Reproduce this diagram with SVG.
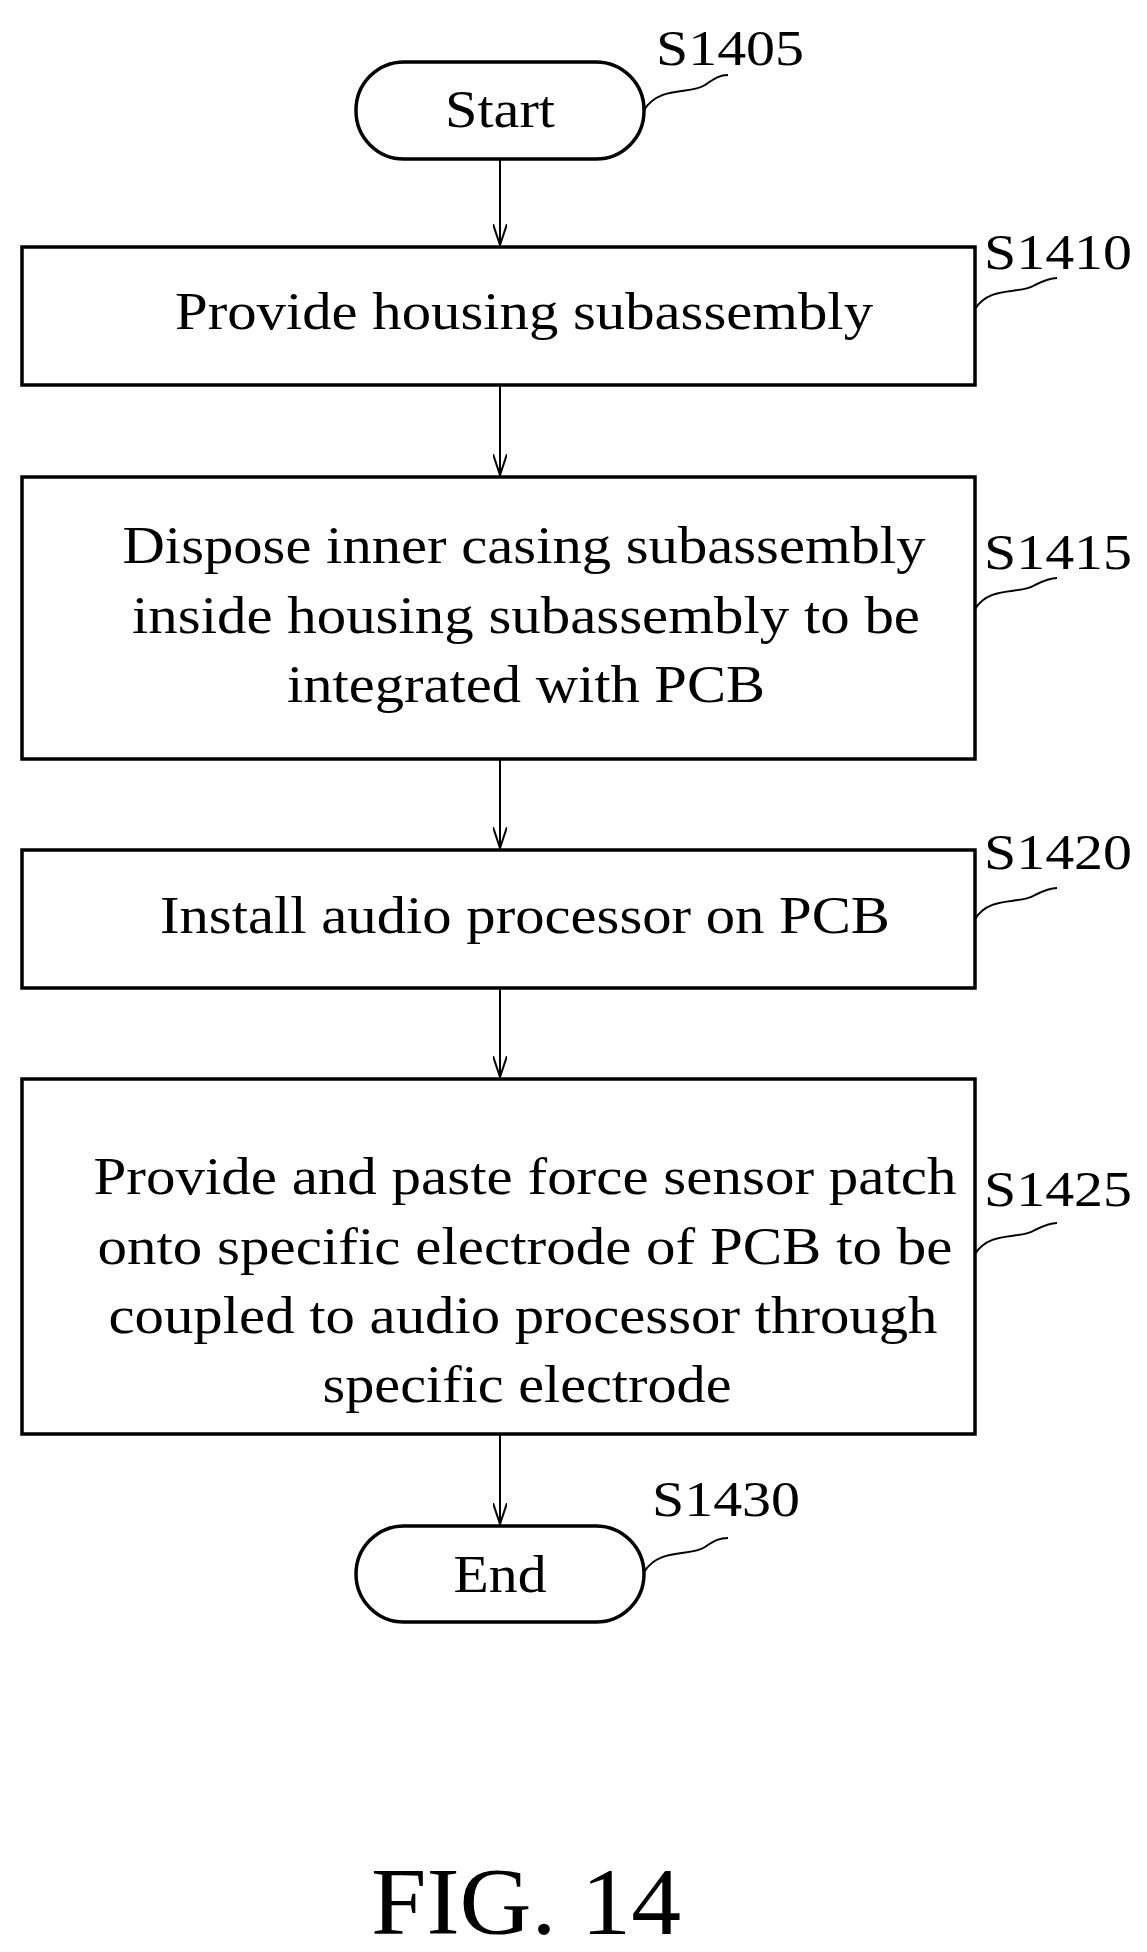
<svg xmlns="http://www.w3.org/2000/svg" width="1147" height="1952" viewBox="0 0 1147 1952">
<defs><marker id="ah" markerWidth="22" markerHeight="14" refX="21" refY="7" orient="auto" markerUnits="userSpaceOnUse" viewBox="0 0 22 14"><path d="M0,0 L21,7 L0,14" fill="none" stroke="#000" stroke-width="2"/></marker></defs>
<style>
.box,.pill{fill:#fff;stroke:#000;stroke-width:3.5}
text{font-family:"Liberation Serif","Times New Roman",serif;fill:#000}
.t{font-size:52px;text-anchor:middle}
.l{font-size:50px}
.c{fill:none;stroke:#000;stroke-width:2}
</style>
<rect width="1147" height="1952" fill="#fff"/>
<g id="connectors">
<line class="c" x1="500" y1="159" x2="500" y2="245" marker-end="url(#ah)"/>
<line class="c" x1="500" y1="385" x2="500" y2="475" marker-end="url(#ah)"/>
<line class="c" x1="500" y1="759" x2="500" y2="848" marker-end="url(#ah)"/>
<line class="c" x1="500" y1="988" x2="500" y2="1077" marker-end="url(#ah)"/>
<line class="c" x1="500" y1="1434" x2="500" y2="1524" marker-end="url(#ah)"/>
<path class="c" d="M644,110 C660,85 690,95 705,85 C715,78 720,75 728,75"/>
<path class="c" d="M975,309 C990,285 1020,295 1035,285 C1045,280 1050,278 1057,278"/>
<path class="c" d="M975,609 C990,585 1020,595 1035,585 C1045,580 1050,578 1057,578"/>
<path class="c" d="M975,919 C990,895 1020,905 1035,895 C1045,890 1050,888 1057,888"/>
<path class="c" d="M975,1254 C990,1230 1020,1240 1035,1230 C1045,1225 1050,1223 1057,1223"/>
<path class="c" d="M644,1572 C660,1547 690,1557 705,1547 C715,1540 720,1538 728,1538"/>
</g>
<g id="S1405"><rect class="pill" x="356" y="62" width="288" height="97" rx="48"/><text class="t" x="500" y="127" textLength="110" lengthAdjust="spacingAndGlyphs">Start</text><text class="l" x="656" y="65" textLength="148" lengthAdjust="spacingAndGlyphs">S1405</text></g>
<g id="S1410"><rect class="box" x="22" y="247" width="953" height="138"/><text class="t" x="524" y="329" textLength="698" lengthAdjust="spacingAndGlyphs">Provide housing subassembly</text><text class="l" x="984" y="269" textLength="148" lengthAdjust="spacingAndGlyphs">S1410</text></g>
<g id="S1415"><rect class="box" x="22" y="477" width="953" height="282"/><text class="t" x="524" y="563" textLength="803" lengthAdjust="spacingAndGlyphs">Dispose inner casing subassembly</text><text class="t" x="526" y="633" textLength="788" lengthAdjust="spacingAndGlyphs">inside housing subassembly to be</text><text class="t" x="526" y="702" textLength="478" lengthAdjust="spacingAndGlyphs">integrated with PCB</text><text class="l" x="984" y="569" textLength="148" lengthAdjust="spacingAndGlyphs">S1415</text></g>
<g id="S1420"><rect class="box" x="22" y="850" width="953" height="138"/><text class="t" x="525" y="933" textLength="730" lengthAdjust="spacingAndGlyphs">Install audio processor on PCB</text><text class="l" x="984" y="869" textLength="148" lengthAdjust="spacingAndGlyphs">S1420</text></g>
<g id="S1425"><rect class="box" x="22" y="1079" width="953" height="355"/><text class="t" x="525" y="1194" textLength="863" lengthAdjust="spacingAndGlyphs">Provide and paste force sensor patch</text><text class="t" x="525" y="1264" textLength="855" lengthAdjust="spacingAndGlyphs">onto specific electrode of PCB to be</text><text class="t" x="523" y="1333" textLength="829" lengthAdjust="spacingAndGlyphs">coupled to audio processor through</text><text class="t" x="527" y="1402" textLength="409" lengthAdjust="spacingAndGlyphs">specific electrode</text><text class="l" x="984" y="1206" textLength="148" lengthAdjust="spacingAndGlyphs">S1425</text></g>
<g id="S1430"><rect class="pill" x="356" y="1526" width="288" height="96" rx="48"/><text class="t" x="500" y="1592" textLength="93" lengthAdjust="spacingAndGlyphs">End</text><text class="l" x="652" y="1516" textLength="148" lengthAdjust="spacingAndGlyphs">S1430</text></g>
<text x="371" y="1934" font-size="96" textLength="310" lengthAdjust="spacingAndGlyphs">FIG. 14</text>
</svg>
